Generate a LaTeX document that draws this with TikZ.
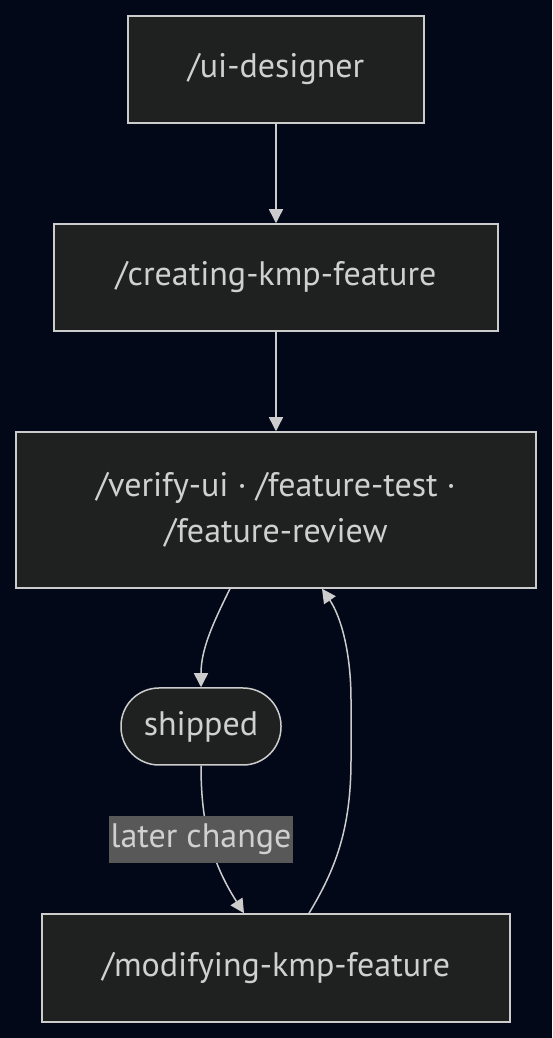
\documentclass[tikz,border=0pt]{standalone}
\usepackage{fontspec}
\setmainfont{PT Sans}
\usetikzlibrary{arrows.meta}
\definecolor{bgnavy}{HTML}{020818}
\definecolor{boxfill}{HTML}{1F2020}
\definecolor{linegray}{HTML}{CCCCCC}
\definecolor{txtgray}{HTML}{D0D0D0}
\definecolor{lblfill}{HTML}{585858}
\begin{document}
\begin{tikzpicture}[x=1pt,y=1pt,
    box/.style={draw=linegray, fill=boxfill, line width=1.5pt, text=txtgray,
      font=\fontsize{34}{46}\selectfont, align=center, inner sep=0pt},
    pill/.style={box, rounded corners=38pt},
    lbl/.style={fill=lblfill, text=txtgray, font=\fontsize{34}{40}\selectfont,
      inner xsep=2pt, inner ysep=0pt, minimum height=47pt},
    arr/.style={draw=linegray, line width=1.5pt, -{Triangle[length=14pt,width=14pt]}}]
  \fill[bgnavy] (0,0) rectangle (552,1038);
  \node (ui) [box, minimum width=296pt, minimum height=107pt] at (276,968.5) {/ui-designer};
  \node (create) [box, minimum width=444pt, minimum height=107pt, below of=ui, node distance=208pt] {/creating-kmp-feature};
  \node (verify) [box, minimum width=520pt, minimum height=156pt, below of=create, node distance=232.5pt] {/verify-ui · /feature-test ·\\/feature-review};
  \node (shipped) [pill, minimum width=160pt, minimum height=77pt] at (201,311.5) {shipped};
  \node (modify) [box, minimum width=468pt, minimum height=108pt, below of=verify, node distance=458pt] {/modifying-kmp-feature};
  \draw[arr] (ui) -- (create);
  \draw[arr] (create) -- (verify);
  \draw[arr] ([xshift=-46pt]verify.south) .. controls (212,413) and (201,388) .. (shipped.north);
  \draw[arr] (shipped.south) .. controls (201,218) and (210,178) .. ([xshift=-32pt]modify.north);
  \draw[arr] ([xshift=33pt]modify.north) .. controls (335,168) and (351,208) .. (351,278)
    -- (351,338) .. controls (351,388) and (340,423) .. ([xshift=46pt]verify.south);
  \node (change) [lbl] at (201,198.5) {later change};
\end{tikzpicture}
\end{document}
